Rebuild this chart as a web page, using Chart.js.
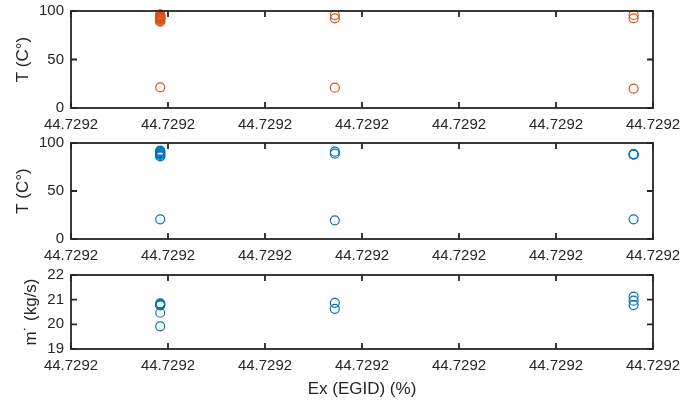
<!DOCTYPE html>
<html>
<head>
<meta charset="utf-8">
<script src="https://cdn.jsdelivr.net/npm/chart.js@4.4.0/dist/chart.umd.min.js"></script>
<style>
  html, body { margin: 0; padding: 0; background: #fff; }
  #wrap { position: relative; width: 683px; height: 400px; }
  .pane { position: absolute; left: 0; width: 683px; }
</style>
</head>
<body>
<div id="wrap">
  <div class="pane" style="top:0;height:132px"><canvas id="c1"></canvas></div>
  <div class="pane" style="top:132px;height:132px"><canvas id="c2"></canvas></div>
  <div class="pane" style="top:264px;height:136px"><canvas id="c3"></canvas></div>
</div>
<script>
// x positions are in tick units (7 ticks, all labelled 44.7292)
const xTickLabels = ['44.7292', '44.7292', '44.7292', '44.7292', '44.7292', '44.7292', '44.7292'];

// top panel: temperature (orange)
const tempTopX = [0.92, 0.92, 0.92, 0.92, 0.92, 0.92, 0.92, 0.92, 0.92, 0.92, 0.92, 0.92, 0.92, 0.92, 0.92, 0.92,
                  2.72, 2.72, 2.72, 5.80, 5.80, 5.80];
const tempTopY = [96.5, 96, 95.5, 95, 94.5, 94, 93.5, 93, 92.5, 92, 91.5, 91, 90, 89.5, 89, 21.3,
                  95.8, 92.5, 21, 96, 92.5, 20];

// middle panel: temperature (blue)
const tempMidX = [0.92, 0.92, 0.92, 0.92, 0.92, 0.92, 0.92, 0.92, 0.92,
                  2.72, 2.72, 2.72, 5.80, 5.80, 5.80, 5.80];
const tempMidY = [92, 91.5, 90.5, 89.5, 88.5, 87.5, 86.5, 86, 20.5,
                  91, 89, 19.5, 88.5, 88.2, 87.8, 20.5];

// bottom panel: mass flow
const flowX = [0.92, 0.92, 0.92, 0.92, 0.92, 0.92, 2.72, 2.72, 5.80, 5.80, 5.80];
const flowY = [20.85, 20.82, 20.79, 20.77, 20.47, 19.92, 20.87, 20.63, 21.12, 20.96, 20.78];

const topTicks = [0, 50, 100];
const flowTicks = [19, 20, 21, 22];

const ink = '#262626';
const orange = '#D95319';
const blue = '#0072BD';
Chart.defaults.font.family = '"Liberation Sans", Arial, Helvetica, sans-serif';
Chart.defaults.color = ink;

// MATLAB style box with inward ticks on all four sides
const boxPlugin = {
  id: 'box',
  afterDraw(chart) {
    const ctx = chart.ctx;
    const a = chart.chartArea;
    const xs = chart.scales.x, ys = chart.scales.y;
    const len = 6;
    ctx.save();
    ctx.strokeStyle = ink;
    ctx.lineWidth = 1.8;
    ctx.beginPath();
    xs.ticks.forEach(t => {
      const p = xs.getPixelForValue(t.value);
      ctx.moveTo(p, a.bottom); ctx.lineTo(p, a.bottom - len);
      ctx.moveTo(p, a.top); ctx.lineTo(p, a.top + len);
    });
    ys.ticks.forEach(t => {
      const p = ys.getPixelForValue(t.value);
      ctx.moveTo(a.left, p); ctx.lineTo(a.left + len, p);
      ctx.moveTo(a.right, p); ctx.lineTo(a.right - len, p);
    });
    ctx.stroke();
    ctx.strokeRect(a.left, a.top, a.right - a.left, a.bottom - a.top);
    ctx.restore();
  }
};

function makePanel(id, xs, ys, color, yMin, yMax, yTicks, yTitle, titlePad, xAxisH, xTitle) {
  const pts = xs.map((x, i) => ({ x: x, y: ys[i] }));
  return new Chart(document.getElementById(id), {
    type: 'scatter',
    data: {
      datasets: [{
        data: pts,
        pointStyle: 'circle',
        pointRadius: 4.5,
        pointHoverRadius: 4.5,
        borderColor: color,
        backgroundColor: 'rgba(0,0,0,0)',
        borderWidth: 1.2
      }]
    },
    options: {
      responsive: true,
      maintainAspectRatio: false,
      animation: false,
      clip: false,
      layout: { padding: { top: 11, right: 30, left: 0, bottom: 0 } },
      plugins: { legend: { display: false }, tooltip: { enabled: false } },
      scales: {
        x: {
          type: 'linear',
          min: 0, max: 6,
          afterBuildTicks: s => { s.ticks = xTickLabels.map((l, i) => ({ value: i })); },
          afterFit: s => { s.height = xAxisH; s.paddingLeft = 0; s.paddingRight = 0; },
          grid: { display: false, drawTicks: false },
          border: { display: false },
          ticks: {
            padding: 8,
            maxRotation: 0,
            autoSkip: false,
            font: { size: 15 },
            callback: (v, i) => xTickLabels[i]
          },
          title: {
            display: !!xTitle,
            text: xTitle || '',
            font: { size: 17 },
            padding: { top: 3, bottom: 0 }
          }
        },
        y: {
          min: yMin, max: yMax,
          afterBuildTicks: s => { s.ticks = yTicks.map(v => ({ value: v })); },
          afterFit: s => { s.width = 71; s.paddingTop = 0; s.paddingBottom = 0; },
          grid: { display: false, drawTicks: false },
          border: { display: false },
          ticks: { padding: 7, font: { size: 15 } },
          title: {
            display: true,
            text: yTitle,
            font: { size: 17 },
            padding: { top: titlePad, bottom: 0 }
          }
        }
      }
    },
    plugins: [boxPlugin]
  });
}

makePanel('c1', tempTopX, tempTopY, orange, 0, 100, topTicks, 'T (C°)', 13, 24);
makePanel('c2', tempMidX, tempMidY, blue, 0, 100, topTicks, 'T (C°)', 13, 25);
makePanel('c3', flowX, flowY, blue, 19, 22, flowTicks, 'm˙ (kg/s)', 21, 51, 'Ex (EGID) (%)');
</script>
</body>
</html>
